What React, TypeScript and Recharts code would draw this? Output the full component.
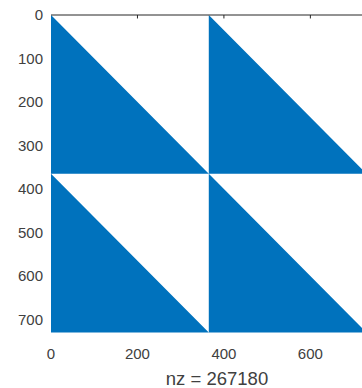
import { ComposedChart, Area, XAxis, YAxis, ReferenceLine } from "recharts";

// spy() of a 730x730 matrix made of four lower-triangular 365x365 blocks
const colBreaks = [0, 365, 365, 730];
const upperTop = [0, 365, 0, 365];
const upperBottom = [365, 365, 365, 365];
const lowerTop = [365, 730, 365, 730];
const lowerBottom = [730, 730, 730, 730];

const xTicks = [0, 200, 400, 600];
const yTicks = [0, 100, 200, 300, 400, 500, 600, 700];
const nzLabel = "nz = 267180";

const data = colBreaks.map((x, i) => ({
  x,
  upper: [upperTop[i], upperBottom[i]],
  lower: [lowerTop[i], lowerBottom[i]],
}));

const blue = "#0072BD";
const font = "'Liberation Sans', Arial, sans-serif";
const tickStyle = { fill: "#404040", fontSize: 15, fontFamily: font };

export default function App() {
  return (
    <div style={{ position: "absolute", left: 0, top: 0, width: 362, height: 388, overflow: "hidden", background: "#fff" }}>
      <ComposedChart width={370} height={388} data={data} margin={{ top: 15, right: 3, bottom: 0, left: 0 }}>
        <XAxis
          dataKey="x"
          type="number"
          domain={[0, 731]}
          ticks={xTicks}
          axisLine={false}
          tickLine={false}
          tickSize={0}
          tickMargin={15}
          tick={tickStyle}
          height={55}
          label={{ value: nzLabel, position: "insideBottom", offset: 3, dx: 8, style: { fill: "#404040", fontSize: 18.5, fontFamily: font } }}
        />
        <YAxis
          type="number"
          reversed
          domain={[0, 731]}
          ticks={yTicks}
          axisLine={false}
          tickLine={false}
          tickSize={0}
          tickMargin={8}
          tick={tickStyle}
          width={51}
        />
        <Area dataKey="upper" type="linear" stroke="none" fill={blue} fillOpacity={1} isAnimationActive={false} />
        <Area dataKey="lower" type="linear" stroke="none" fill={blue} fillOpacity={1} isAnimationActive={false} />
        <ReferenceLine y={0} stroke="#262626" strokeWidth={1} />
        {xTicks.slice(1).map((t) => (
          <ReferenceLine key={t} segment={[{ x: t, y: 0 }, { x: t, y: 8 }]} stroke="#262626" strokeWidth={1} />
        ))}
      </ComposedChart>
    </div>
  );
}
